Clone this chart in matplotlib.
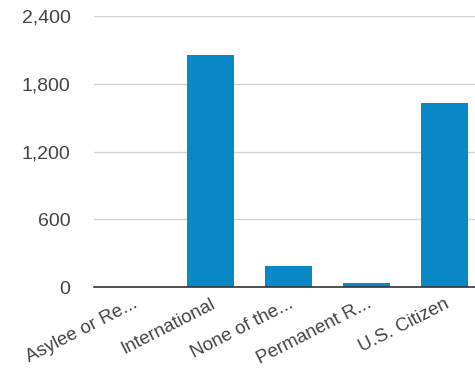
import matplotlib.pyplot as plt
from matplotlib.ticker import FuncFormatter

plt.rcParams['font.family'] = ['Liberation Sans', 'DejaVu Sans']

categories = ["Asylee or Re...", "International", "None of the...", "Permanent R...", "U.S. Citizen"]
counts = [0, 2055, 186, 35, 1630]
yticks = [0, 600, 1200, 1800, 2400]

fig = plt.figure(figsize=(4.75, 3.68), dpi=100)
ax = fig.add_axes([0.198, 0.22, 0.819, 0.7365])

ax.bar(range(len(categories)), counts, width=0.6, color="#0a88c6", zorder=2)

ax.set_xlim(-0.5, len(categories) - 0.5)
ax.set_ylim(0, 2400)
ax.set_yticks(yticks)
ax.yaxis.set_major_formatter(FuncFormatter(lambda v, p: f"{int(v):,}"))
ax.grid(axis="y", color="#d4d4d4", linewidth=1, zorder=0)

for s in ["top", "right", "left"]:
    ax.spines[s].set_visible(False)
ax.spines["bottom"].set_color("#333333")
ax.spines["bottom"].set_linewidth(1.2)
ax.spines["bottom"].set_zorder(3)

ax.tick_params(axis="y", length=0, pad=17, labelsize=14, labelcolor="#444444")
ax.tick_params(axis="x", length=0, pad=6, labelsize=13.5, labelcolor="#444444")
ax.set_xticks(range(len(categories)))
ax.set_xticklabels(categories, rotation=27, ha="right", rotation_mode="anchor")

fig.savefig("out.png", dpi=100)
